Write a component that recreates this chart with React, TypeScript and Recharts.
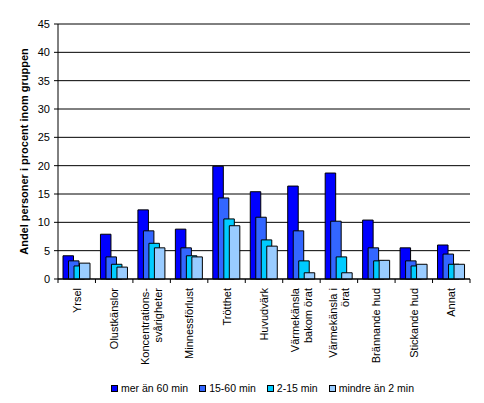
import React from "react";
import { BarChart, Bar, XAxis, YAxis, CartesianGrid, Label } from "recharts";

const CATEGORIES = [
    ["Yrsel"],
    ["Olustkänslor"],
    ["Koncentrations-", "svårigheter"],
    ["Minnessförlust"],
    ["Trötthet"],
    ["Huvudvärk"],
    ["Värmekänsla", "bakom örat"],
    ["Värmekänsla i", "örat"],
    ["Brännande hud"],
    ["Stickande hud"],
    ["Annat"],
];

const MER_AN_60 = [4.1, 7.9, 12.2, 8.8, 19.9, 15.4, 16.4, 18.7, 10.4, 5.5, 6.0];
const MIN_15_60 = [3.2, 3.9, 8.5, 5.5, 14.3, 10.9, 8.5, 10.2, 5.5, 3.2, 4.4];
const MIN_2_15 = [2.3, 2.6, 6.3, 4.1, 10.6, 6.9, 3.2, 3.9, 3.2, 2.3, 2.6];
const MINDRE_AN_2 = [2.8, 2.1, 5.5, 3.9, 9.4, 5.8, 1.1, 1.1, 3.3, 2.6, 2.6];

const Y_TICKS = [0, 5, 10, 15, 20, 25, 30, 35, 40, 45];

const SERIES = [
    { key: "mer", name: "mer än 60 min", color: "#0000FF", values: MER_AN_60 },
    { key: "m15", name: "15-60 min", color: "#3366FF", values: MIN_15_60 },
    { key: "m2", name: "2-15 min", color: "#00CCFF", values: MIN_2_15 },
    { key: "mindre", name: "mindre än 2 min", color: "#99CCFF", values: MINDRE_AN_2 },
];

const data = CATEGORIES.map((lines, i) => {
    const row: Record<string, any> = { name: lines.join(" "), lines };
    SERIES.forEach((s) => { row[s.key] = s.values[i]; });
    return row;
});

const FONT = "'Liberation Sans', Arial, sans-serif";

function CategoryTick(props: any) {
    const { x, y, payload, index } = props;
    const lines: string[] = CATEGORIES[index] || [payload.value];
    const half = payload.offset || 0;
    const axisY = y - 6;
    const n = lines.length;
    return (
        <g>
            <line x1={x - half} y1={axisY} x2={x - half} y2={axisY + 4} stroke="#000" />
            {index === CATEGORIES.length - 1 && (
                <line x1={x + half} y1={axisY} x2={x + half} y2={axisY + 4} stroke="#000" />
            )}
            <g transform={`translate(${x},${y})`}>
                <text transform="rotate(-90)" textAnchor="end" fontSize={11} fontFamily={FONT} fill="#000">
                    {lines.map((l, i) => (
                        <tspan key={i} x={-3} y={(i - (n - 1) / 2) * 12.7 + 4}>{l}</tspan>
                    ))}
                </text>
            </g>
        </g>
    );
}

export default function App() {
    return (
        <div style={{ position: "absolute", left: 0, top: 0, width: 484, height: 403, background: "#fff", fontFamily: FONT }}>
            <BarChart
                width={484}
                height={403}
                data={data}
                margin={{ top: 24, right: 14, left: 0, bottom: 0 }}
                barSize={10.5}
                barGap={-5}
            >
                <CartesianGrid vertical={false} stroke="#000" strokeWidth={1} />
                <XAxis
                    dataKey="name"
                    height={124}
                    interval={0}
                    tickLine={false}
                    tickSize={4}
                    tickMargin={2}
                    axisLine={{ stroke: "#000" }}
                    tick={<CategoryTick />}
                />
                <YAxis
                    width={58}
                    domain={[0, 45]}
                    ticks={Y_TICKS}
                    interval={0}
                    tickSize={4}
                    tickMargin={4}
                    axisLine={{ stroke: "#000" }}
                    tickLine={{ stroke: "#000" }}
                    tick={{ fontSize: 11, fill: "#000", fontFamily: FONT }}
                >
                    <Label
                        value="Andel personer i procent inom gruppen"
                        angle={-90}
                        position="center"
                        dx={-5}
                        style={{ fontSize: 11, fontWeight: "bold", fill: "#000", fontFamily: FONT }}
                    />
                </YAxis>
                {SERIES.map((s) => (
                    <Bar
                        key={s.key}
                        dataKey={s.key}
                        name={s.name}
                        fill={s.color}
                        stroke="#000"
                        strokeWidth={1}
                        isAnimationActive={false}
                    />
                ))}
            </BarChart>
            <div
                style={{
                    position: "absolute",
                    top: 381,
                    left: 111,
                    display: "flex",
                    fontSize: 10.5,
                    lineHeight: "14px",
                }}
            >
                {SERIES.map((s) => (
                    <div key={s.key} style={{ display: "flex", alignItems: "center", marginRight: 11 }}>
                        <span style={{ width: 5, height: 5, background: s.color, border: "1px solid #000", marginRight: 3 }} />
                        <span>{s.name}</span>
                    </div>
                ))}
            </div>
        </div>
    );
}
